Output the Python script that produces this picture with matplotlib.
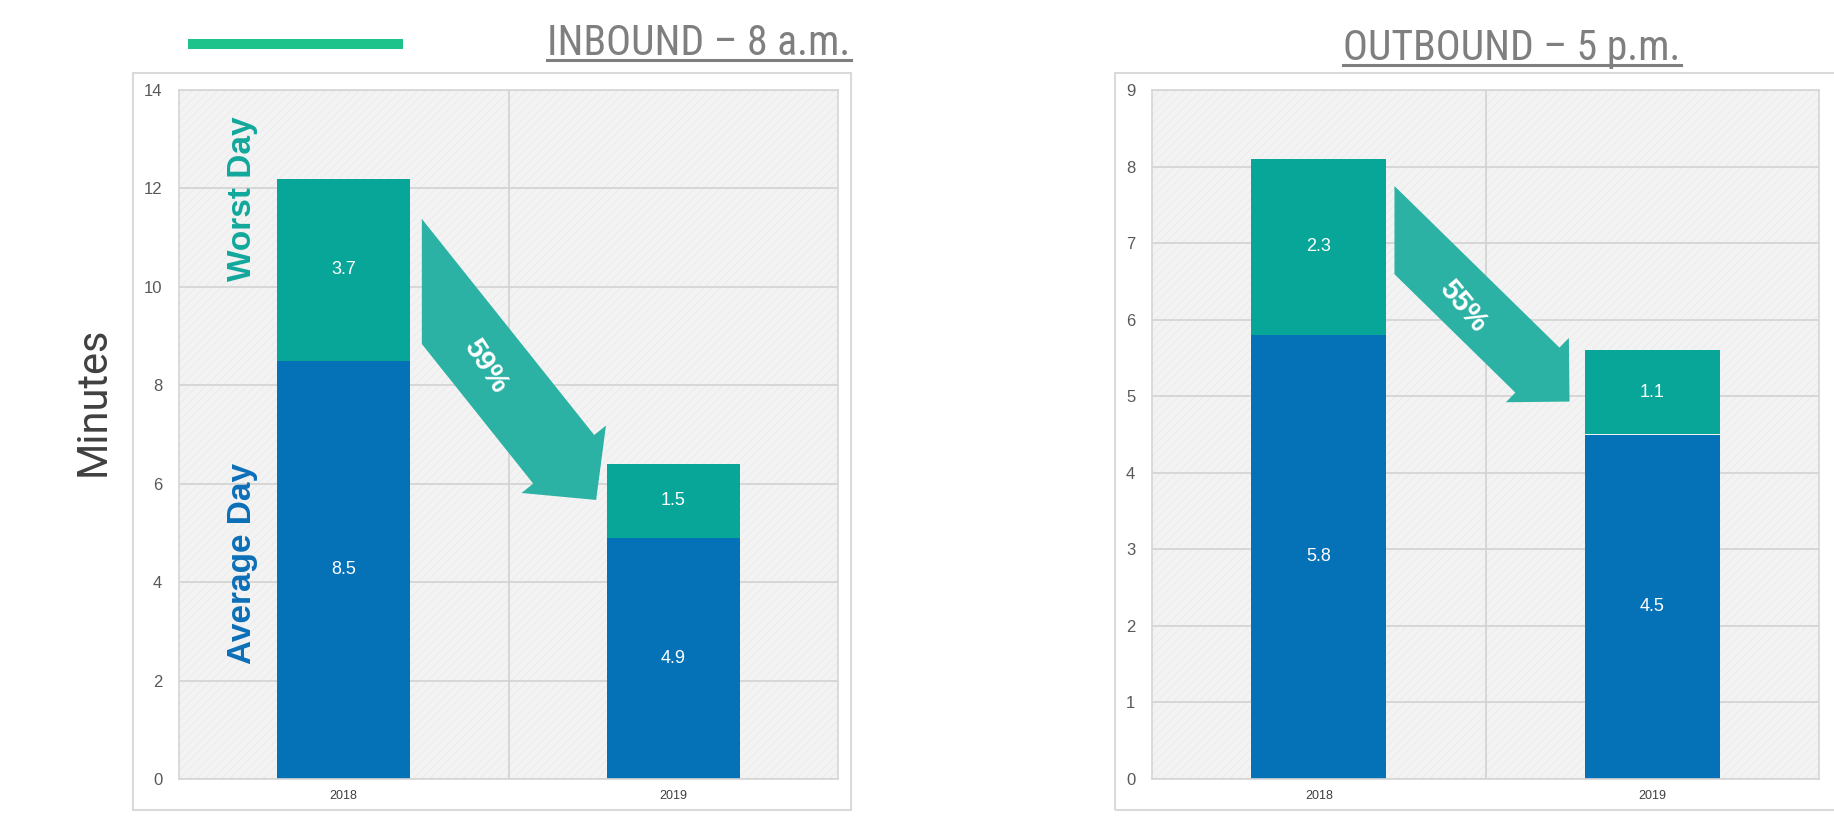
import matplotlib
matplotlib.use('Agg')
import matplotlib.pyplot as plt
from matplotlib.patches import Rectangle, Polygon
from matplotlib.lines import Line2D
from matplotlib import font_manager
import numpy as np

years = ['2018', '2019']
inbound_average = [8.5, 4.9]
inbound_worst = [3.7, 1.5]
outbound_average = [5.8, 4.5]
outbound_worst = [2.3, 1.1]
inbound_drop = '59%'
outbound_drop = '55%'

BLUE = '#0572b8'
TEAL = '#07a699'
ARROW = '#2bb2a4'
GRID = '#d2d2d2'
TITLE_GRAY = '#7f7f7f'

# pick a narrow face for the titles if one is around
names = {f.name for f in font_manager.fontManager.ttflist}
NARROW = [n for n in ('Roboto Condensed', 'Liberation Sans Narrow', 'DejaVu Sans') if n in names]

plt.rcParams['font.family'] = ['Liberation Sans', 'DejaVu Sans']
plt.rcParams['hatch.linewidth'] = 0.5

W, H = 1834, 821
fig = plt.figure(figsize=(W / 100, H / 100), dpi=100)


def px_box(x0, y0, x1, y1):
    # pixel box with top-left origin -> [left, bottom, width, height] in figure fraction
    return [x0 / W, 1 - y1 / H, (x1 - x0) / W, (y1 - y0) / H]


def block_arrow(ax, start, tip, shaft, head_w, head_len, color):
    # start: centre of the vertical tail cut, tip: point of the arrow (data coords)
    # shaft / head sizes in pixels
    s = ax.transData.transform(start)
    t = ax.transData.transform(tip)
    d = (t - s) / np.hypot(*(t - s))
    n = np.array([-d[1], d[0]])
    base = t - d * head_len
    up, down = [], []
    for side, out in ((1, up), (-1, down)):
        edge = base + n * side * shaft / 2
        tail = edge - d * (edge[0] - s[0]) / d[0]
        barb = base + n * side * head_w / 2
        out.extend([tail, edge, barb])
    pts = up + [t] + down[::-1]
    pts = ax.transData.inverted().transform(np.array(pts))
    ax.add_patch(Polygon(pts, closed=True, fc=color, ec='none', zorder=3))


def draw_panel(ax, avg, worst, ymax, drop, arrow):
    x = np.arange(len(years))
    ax.set_facecolor('#f3f3f3')
    ax.add_patch(Rectangle((0, 0), 1, 1, transform=ax.transAxes, fc='none',
                           ec='#e9e9e9', hatch='////', lw=0, zorder=0))
    ax.bar(x, avg, width=0.405, color=BLUE, zorder=2)
    ax.bar(x, worst, width=0.405, bottom=avg, color=TEAL, zorder=2)
    for xi, a, w in zip(x, avg, worst):
        ax.text(xi, a / 2, f'{a:.1f}', ha='center', va='center', color='white', fontsize=13, zorder=4)
        ax.text(xi, a + w / 2, f'{w:.1f}', ha='center', va='center', color='white', fontsize=13, zorder=4)

    ax.set_xlim(-0.5, 1.5)
    ax.set_ylim(0, ymax)
    ax.set_xticks(x)
    ax.set_xticklabels(years)
    ax.set_yticks(range(0, ymax + 1, 2 if ymax > 10 else 1))
    ax.yaxis.grid(True, color=GRID, lw=1.2)
    ax.set_axisbelow(True)
    ax.axvline(0.5, color=GRID, lw=1.2, zorder=1)
    ax.tick_params(axis='y', length=0, pad=12, labelsize=12, labelcolor='#595959')
    ax.tick_params(axis='x', length=0, pad=8, labelsize=9, labelcolor='#404040')
    for sp in ax.spines.values():
        sp.set_color('#d5d5d5')
        sp.set_linewidth(1.2)

    block_arrow(ax, arrow['start'], arrow['tip'], arrow['shaft'], arrow['head_w'], arrow['head_len'], ARROW)
    ax.text(*arrow['label'], drop, rotation=arrow['rot'], rotation_mode='anchor', ha='center', va='center',
            color='white', fontsize=21, fontweight='bold', zorder=4)


# outer chart frames
for box in (px_box(133, 73, 851, 810), px_box(1115, 73, 1850, 810)):
    fig.add_artist(Rectangle(box[:2], *box[2:], transform=fig.transFigure,
                             fill=False, ec='#dadada', lw=1.5))

ax1 = fig.add_axes(px_box(179, 90, 838, 779))
ax2 = fig.add_axes(px_box(1152, 90, 1819, 779))

draw_panel(ax1, inbound_average, inbound_worst, 14, inbound_drop,
           dict(start=(0.237, 10.11), tip=(0.766, 5.67), shaft=78, head_w=108, head_len=52,
                label=(0.43, 8.4), rot=-57))
draw_panel(ax2, outbound_average, outbound_worst, 9, outbound_drop,
           dict(start=(0.227, 7.17), tip=(0.752, 4.93), shaft=63, head_w=90, head_len=45,
                label=(0.431, 6.18), rot=-50))

ax1.text(-0.308, 11.79, 'Worst Day', rotation=90, ha='center', va='center', fontsize=24,
         fontweight='bold', color='#12a89c')
ax1.text(-0.308, 4.39, 'Average Day', rotation=90, ha='center', va='center', fontsize=24,
         fontweight='bold', color='#0b6fb8')

fig.text(93 / W, 1 - 401 / H, 'Minutes', rotation=90, ha='center', va='center', fontsize=30,
         color='#404040', family=['Roboto', 'DejaVu Sans'])

# green accent bar
fig.add_artist(Line2D([188 / W, 403 / W], [1 - 44 / H] * 2, transform=fig.transFigure,
                      color='#1ec28b', lw=7.2, solid_capstyle='butt'))

# underlined titles
titles = [('INBOUND – 8 a.m.', 699, 55), ('OUTBOUND – 5 p.m.', 1512, 60)]
texts = []
for label, cx, base in titles:
    t = fig.text(cx / W, 1 - base / H, label, ha='center', va='baseline', fontsize=30,
                 color=TITLE_GRAY, family=NARROW, fontstretch='condensed')
    texts.append((t, base))
fig.canvas.draw()
for t, base in texts:
    bb = t.get_window_extent()
    y = 1 - (base + 5) / H
    fig.add_artist(Line2D([bb.x0 / W, bb.x1 / W], [y, y], transform=fig.transFigure,
                          color=TITLE_GRAY, lw=2.2))

fig.savefig('out.png', dpi=100)
